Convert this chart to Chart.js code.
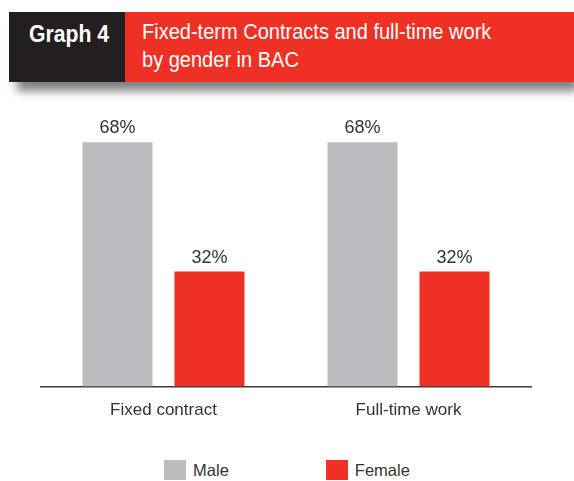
<!DOCTYPE html>
<html>
<head>
<meta charset="utf-8">
<script src="https://cdn.jsdelivr.net/npm/chart.js@4/dist/chart.umd.min.js"></script>
<style>
  html,body{margin:0;padding:0;background:#fff;width:574px;height:481px;overflow:hidden;}
  body{position:relative;font-family:"Liberation Sans",Arial,sans-serif;}
  .hdr{position:absolute;left:9px;top:12px;width:565px;height:70px;display:flex;box-shadow:6px 11px 9px -2px rgba(0,0,0,0.5);}
  .hdr .tag{width:116px;background:#231f20;color:#fff;font-weight:bold;font-size:23px;padding-top:9px;box-sizing:border-box;position:relative;}
  .hdr .tag span{position:absolute;left:20px;top:9px;transform:scaleX(0.92);transform-origin:left top;white-space:nowrap;}
  .hdr .ttl{flex:1;background:#ee3124;color:#fff;position:relative;}
  .hdr .ttl div{position:absolute;left:17px;top:6px;font-size:22px;line-height:28px;transform:scaleX(0.91);transform-origin:left top;white-space:nowrap;}
  .wrap{position:absolute;left:0;top:0;width:574px;height:440px;}
  #legend{position:absolute;left:0;top:460px;width:574px;display:flex;justify-content:center;gap:97px;font-size:16.5px;color:#333;}
  #legend .it{display:flex;align-items:center;}
  #legend .sw{width:22px;height:20px;margin-right:7px;}
</style>
</head>
<body>
<div class="hdr"><div class="tag"><span>Graph 4</span></div><div class="ttl"><div>Fixed-term Contracts and full-time work<br>by gender in BAC</div></div></div>
<div class="wrap"><canvas id="chart"></canvas></div>
<div id="legend"></div>
<script>
(function(){
  const categories = ['Fixed contract', 'Full-time work'];
  const seriesNames = ['Male', 'Female'];
  const maleValues = [68, 68];
  const femaleValues = [32, 32];
  const colors = ['#bcbdc0', '#ee3124'];

  // value labels on top of bars
  const valueLabels = {
    id: 'valueLabels',
    afterDatasetsDraw(chart){
      const ctx = chart.ctx;
      ctx.save();
      ctx.font = '18px "Liberation Sans", sans-serif';
      ctx.fillStyle = '#333';
      ctx.textAlign = 'center';
      ctx.textBaseline = 'alphabetic';
      chart.data.datasets.forEach((ds, i)=>{
        chart.getDatasetMeta(i).data.forEach((bar, j)=>{
          ctx.fillText(ds.data[j] + '%', bar.x, bar.y - 9);
        });
      });
      ctx.restore();
    }
  };

  const chart = new Chart(document.getElementById('chart'), {
    type: 'bar',
    data: {
      labels: categories,
      datasets: [
        { label: seriesNames[0], data: maleValues, backgroundColor: colors[0] },
        { label: seriesNames[1], data: femaleValues, backgroundColor: colors[1] }
      ]
    },
    options: {
      responsive: true,
      maintainAspectRatio: false,
      animation: false,
      categoryPercentage: 0.751,
      barPercentage: 0.761,
      layout: { padding: { left: 41, right: 43, top: 99, bottom: 13 } },
      plugins: { legend: { display: false }, tooltip: { enabled: false } },
      scales: {
        y: { display: false, min: 0, max: 80 },
        x: {
          grid: { display: false },
          border: { display: true, color: '#3a3a3a', width: 1.5 },
          ticks: { color: '#333', padding: 6, font: { family: '"Liberation Sans", sans-serif', size: 17 } }
        }
      }
    },
    plugins: [valueLabels]
  });

  // legend built from the chart datasets
  const lg = document.getElementById('legend');
  lg.innerHTML = chart.data.datasets.map(d=>`<div class="it"><span class="sw" style="background:${d.backgroundColor}"></span><span>${d.label}</span></div>`).join('');
})();
</script>
</body>
</html>
